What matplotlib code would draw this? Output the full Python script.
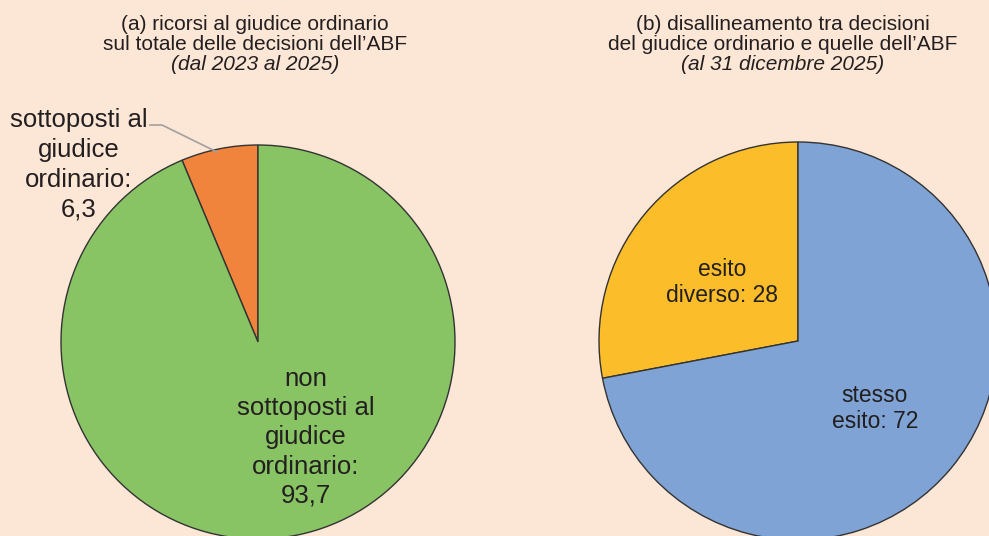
import matplotlib
matplotlib.use("Agg")
import matplotlib.pyplot as plt

plt.rcParams['font.family'] = ['Liberation Sans', 'DejaVu Sans']

# Data
left_labels = ["sottoposti al giudice ordinario", "non sottoposti al giudice ordinario"]
left_values = [6.3, 93.7]
right_labels = ["esito diverso", "stesso esito"]
right_values = [28, 72]

left_colors = ["#F0843C", "#88C464"]
right_colors = ["#FBBE2A", "#7FA3D4"]
bg = "#FCE6D6"
txt = "#231F20"

W, H = 989, 536
fig = plt.figure(figsize=(W / 100, H / 100), dpi=100, facecolor=bg)
ax = fig.add_axes([0, 0, 1, 1])
ax.set_facecolor(bg)

R = 197
wp = dict(edgecolor="#333333", linewidth=1.0)
ax.pie(left_values, colors=left_colors, startangle=90, counterclock=True,
       radius=R, center=(258, H - 342), wedgeprops=wp, frame=True)
ax.pie(right_values, colors=right_colors, startangle=90, counterclock=True,
       radius=R + 2, center=(798, H - 341), wedgeprops=wp, frame=True)

ax.set_xlim(0, W)
ax.set_ylim(0, H)
ax.set_aspect('auto')
ax.axis('off')

def y(p):
    return H - p

def lines(x, ys, texts, size, **kw):
    for yy, t in zip(ys, texts):
        ax.text(x, y(yy + 2), t, ha="center", va="center", fontsize=size, color=txt, **kw)

# Titles
lines(255, [22, 43], ["(a) ricorsi al giudice ordinario",
                      "sul totale delle decisioni dell\u2019ABF"], 15)
lines(255, [63], ["(dal 2023 al 2025)"], 15, style="italic")

lines(783, [22, 43], ["(b) disallineamento tra decisioni",
                      "del giudice ordinario e quelle dell\u2019ABF"], 15)
lines(783, [63], ["(al 31 dicembre 2025)"], 15, style="italic")

# Left labels
lines(79, [118, 148, 178, 207], ["sottoposti al", "giudice", "ordinario:", "6,3"], 18.5)
ax.plot([150, 162, 217], [y(125), y(125), y(152)], color="#A0A0A0", lw=1.2)

lines(306, [377, 406, 435, 465, 494],
      ["non", "sottoposti al", "giudice", "ordinario:", "93,7"], 18.5)

# Right labels
lines(722, [268, 294], ["esito", "diverso: 28"], 16.5)
lines(875, [393, 419], ["stesso", "esito: 72"], 16.5)

fig.savefig("out.png", dpi=100, facecolor=bg)
